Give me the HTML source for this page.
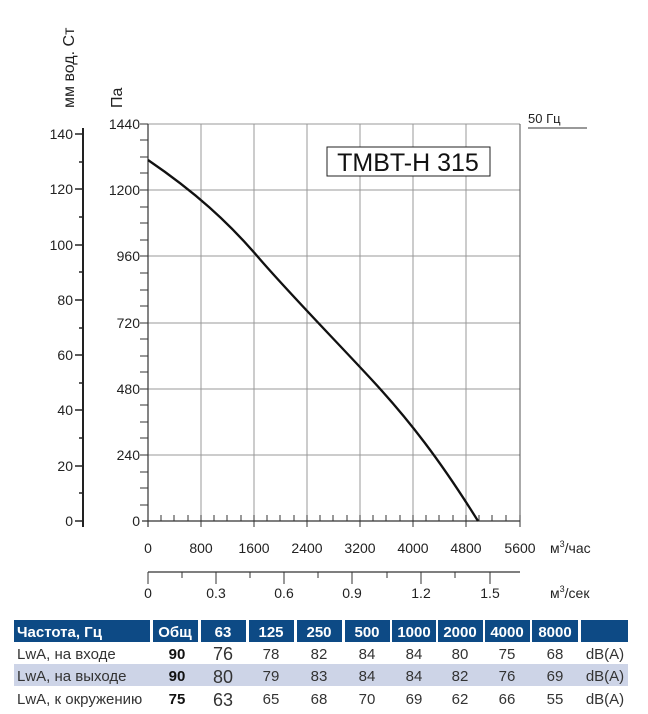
<!DOCTYPE html>
<html><head><meta charset="utf-8"><style>
body{margin:0;background:#fff;}
svg{display:block;font-family:"Liberation Sans",sans-serif;}
</style></head><body>
<svg width="648" height="714" viewBox="0 0 648 714" xmlns="http://www.w3.org/2000/svg">
<g stroke="#999" stroke-width="1">
<line x1="201" y1="124" x2="201" y2="521"/><line x1="254" y1="124" x2="254" y2="521"/>
<line x1="307" y1="124" x2="307" y2="521"/><line x1="360" y1="124" x2="360" y2="521"/>
<line x1="413" y1="124" x2="413" y2="521"/><line x1="466" y1="124" x2="466" y2="521"/>
<line x1="148" y1="124" x2="520" y2="124"/><line x1="148" y1="190" x2="520" y2="190"/>
<line x1="148" y1="256" x2="520" y2="256"/><line x1="148" y1="323" x2="520" y2="323"/>
<line x1="148" y1="389" x2="520" y2="389"/><line x1="148" y1="455" x2="520" y2="455"/>
</g>
<line x1="520" y1="124" x2="520" y2="521" stroke="#555" stroke-width="1"/>
<line x1="148" y1="124" x2="148" y2="527" stroke="#333" stroke-width="1.2"/>
<line x1="142" y1="521" x2="520" y2="521" stroke="#333" stroke-width="1.2"/>
<g stroke="#333" stroke-width="1">
<line x1="140" y1="124" x2="148" y2="124"/><line x1="140" y1="190" x2="148" y2="190"/><line x1="140" y1="256" x2="148" y2="256"/><line x1="140" y1="323" x2="148" y2="323"/><line x1="140" y1="389" x2="148" y2="389"/><line x1="140" y1="455" x2="148" y2="455"/>
<line x1="140" y1="140" x2="148" y2="140"/><line x1="140" y1="157" x2="148" y2="157"/><line x1="140" y1="173" x2="148" y2="173"/>
<line x1="140" y1="207" x2="148" y2="207"/><line x1="140" y1="223" x2="148" y2="223"/><line x1="140" y1="240" x2="148" y2="240"/>
<line x1="140" y1="273" x2="148" y2="273"/><line x1="140" y1="290" x2="148" y2="290"/><line x1="140" y1="306" x2="148" y2="306"/>
<line x1="140" y1="339" x2="148" y2="339"/><line x1="140" y1="356" x2="148" y2="356"/><line x1="140" y1="372" x2="148" y2="372"/>
<line x1="140" y1="405" x2="148" y2="405"/><line x1="140" y1="422" x2="148" y2="422"/><line x1="140" y1="438" x2="148" y2="438"/>
<line x1="140" y1="472" x2="148" y2="472"/><line x1="140" y1="488" x2="148" y2="488"/><line x1="140" y1="505" x2="148" y2="505"/>
</g>
<g stroke="#333" stroke-width="1">
<line x1="161" y1="515" x2="161" y2="521"/><line x1="174" y1="515" x2="174" y2="521"/><line x1="188" y1="515" x2="188" y2="521"/><line x1="201" y1="515" x2="201" y2="527"/>
<line x1="214" y1="515" x2="214" y2="521"/><line x1="227" y1="515" x2="227" y2="521"/><line x1="241" y1="515" x2="241" y2="521"/><line x1="254" y1="515" x2="254" y2="527"/>
<line x1="267" y1="515" x2="267" y2="521"/><line x1="280" y1="515" x2="280" y2="521"/><line x1="294" y1="515" x2="294" y2="521"/><line x1="307" y1="515" x2="307" y2="527"/>
<line x1="320" y1="515" x2="320" y2="521"/><line x1="333" y1="515" x2="333" y2="521"/><line x1="347" y1="515" x2="347" y2="521"/><line x1="360" y1="515" x2="360" y2="527"/>
<line x1="373" y1="515" x2="373" y2="521"/><line x1="386" y1="515" x2="386" y2="521"/><line x1="400" y1="515" x2="400" y2="521"/><line x1="413" y1="515" x2="413" y2="527"/>
<line x1="426" y1="515" x2="426" y2="521"/><line x1="439" y1="515" x2="439" y2="521"/><line x1="453" y1="515" x2="453" y2="521"/><line x1="466" y1="515" x2="466" y2="527"/>
<line x1="479" y1="515" x2="479" y2="521"/><line x1="492" y1="515" x2="492" y2="521"/><line x1="506" y1="515" x2="506" y2="521"/><line x1="520" y1="515" x2="520" y2="527"/>
</g>
<g font-size="14" fill="#222" text-anchor="end">
<text x="140" y="129">1440</text><text x="140" y="195">1200</text><text x="140" y="261">960</text><text x="140" y="328">720</text><text x="140" y="394">480</text><text x="140" y="460">240</text><text x="140" y="526">0</text>
</g>
<line x1="83" y1="128" x2="83" y2="527" stroke="#222" stroke-width="2"/>
<g stroke="#222" stroke-width="1.5">
<line x1="75" y1="134" x2="83" y2="134"/><line x1="75" y1="189" x2="83" y2="189"/><line x1="75" y1="245" x2="83" y2="245"/><line x1="75" y1="300" x2="83" y2="300"/><line x1="75" y1="355" x2="83" y2="355"/><line x1="75" y1="410" x2="83" y2="410"/><line x1="75" y1="466" x2="83" y2="466"/><line x1="75" y1="521" x2="83" y2="521"/>
<line x1="79" y1="162" x2="83" y2="162"/><line x1="79" y1="217" x2="83" y2="217"/><line x1="79" y1="272" x2="83" y2="272"/><line x1="79" y1="328" x2="83" y2="328"/><line x1="79" y1="383" x2="83" y2="383"/><line x1="79" y1="438" x2="83" y2="438"/><line x1="79" y1="493" x2="83" y2="493"/>
</g>
<g font-size="14" fill="#222" text-anchor="end">
<text x="73" y="139">140</text><text x="73" y="194">120</text><text x="73" y="250">100</text><text x="73" y="305">80</text><text x="73" y="360">60</text><text x="73" y="415">40</text><text x="73" y="471">20</text><text x="73" y="526">0</text>
</g>
<text transform="translate(74,108) rotate(-90)" font-size="16" fill="#222">мм вод. Ст</text>
<text transform="translate(122,108) rotate(-90)" font-size="16" fill="#222">Па</text>
<path d="M148,160 C195,192 228,222 258,257 S335,340 372,380 S440,460 478,521" fill="none" stroke="#111" stroke-width="2.3"/>
<rect x="327" y="147" width="163" height="29" fill="#fff" stroke="#222" stroke-width="1"/>
<text x="408" y="171" font-size="25" text-anchor="middle" fill="#111" font-family="Liberation Sans Narrow, Liberation Sans, sans-serif">TMBT-H 315</text>
<text x="528" y="123" font-size="13" fill="#222">50 Гц</text>
<line x1="528" y1="128" x2="587" y2="128" stroke="#333"/>
<g font-size="14" fill="#222" text-anchor="middle">
<text x="148" y="553">0</text><text x="201" y="553">800</text><text x="254" y="553">1600</text><text x="307" y="553">2400</text><text x="360" y="553">3200</text><text x="413" y="553">4000</text><text x="466" y="553">4800</text><text x="520" y="553">5600</text>
</g>
<text x="550" y="553" font-size="14" fill="#222">м<tspan font-size="9" dy="-6">3</tspan><tspan dy="6">/час</tspan></text>
<line x1="148" y1="572" x2="520" y2="572" stroke="#333" stroke-width="1.2"/>
<g stroke="#333" stroke-width="1">
<line x1="148" y1="572" x2="148" y2="584"/><line x1="182" y1="572" x2="182" y2="578"/><line x1="216" y1="572" x2="216" y2="584"/><line x1="250" y1="572" x2="250" y2="578"/><line x1="284" y1="572" x2="284" y2="584"/><line x1="318" y1="572" x2="318" y2="578"/><line x1="352" y1="572" x2="352" y2="584"/><line x1="387" y1="572" x2="387" y2="578"/><line x1="421" y1="572" x2="421" y2="584"/><line x1="455" y1="572" x2="455" y2="578"/><line x1="490" y1="572" x2="490" y2="584"/>
</g>
<g font-size="14" fill="#222" text-anchor="middle">
<text x="148" y="598">0</text><text x="216" y="598">0.3</text><text x="284" y="598">0.6</text><text x="352" y="598">0.9</text><text x="421" y="598">1.2</text><text x="490" y="598">1.5</text>
</g>
<text x="550" y="598" font-size="14" fill="#222">м<tspan font-size="9" dy="-6">3</tspan><tspan dy="6">/сек</tspan></text>
<g fill="#0d4a85">
<rect x="14" y="620" width="136" height="22"/><rect x="153" y="620" width="45" height="22"/><rect x="201" y="620" width="45" height="22"/><rect x="249" y="620" width="45" height="22"/><rect x="297" y="620" width="45" height="22"/><rect x="345" y="620" width="45" height="22"/><rect x="392" y="620" width="44" height="22"/><rect x="438" y="620" width="45" height="22"/><rect x="485" y="620" width="45" height="22"/><rect x="532" y="620" width="46" height="22"/><rect x="581" y="620" width="47" height="22"/>
</g>
<rect x="14" y="664" width="614" height="22" fill="#cdd4e7"/>
<g font-size="15" font-weight="bold" fill="#fff">
<text x="17" y="637">Частота, Гц</text>
<g text-anchor="middle"><text x="175" y="637">Общ</text><text x="223" y="637">63</text><text x="271" y="637">125</text><text x="319" y="637">250</text><text x="367" y="637">500</text><text x="414" y="637">1000</text><text x="460" y="637">2000</text><text x="507" y="637">4000</text><text x="555" y="637">8000</text></g>
</g>
<g font-size="15" fill="#333">
<text x="17" y="659">LwA, на входе</text><text x="17" y="681">LwA, на выходе</text><text x="17" y="704">LwA, к окружению</text>
<g text-anchor="middle">
<text x="177" y="659" font-weight="bold" fill="#111">90</text><text x="223" y="660" font-size="18">76</text><text x="271" y="659">78</text><text x="319" y="659">82</text><text x="367" y="659">84</text><text x="414" y="659">84</text><text x="460" y="659">80</text><text x="507" y="659">75</text><text x="555" y="659">68</text><text x="605" y="659">dB(A)</text>
<text x="177" y="681" font-weight="bold" fill="#111">90</text><text x="223" y="683" font-size="18">80</text><text x="271" y="681">79</text><text x="319" y="681">83</text><text x="367" y="681">84</text><text x="414" y="681">84</text><text x="460" y="681">82</text><text x="507" y="681">76</text><text x="555" y="681">69</text><text x="605" y="681">dB(A)</text>
<text x="177" y="704" font-weight="bold" fill="#111">75</text><text x="223" y="706" font-size="18">63</text><text x="271" y="704">65</text><text x="319" y="704">68</text><text x="367" y="704">70</text><text x="414" y="704">69</text><text x="460" y="704">62</text><text x="507" y="704">66</text><text x="555" y="704">55</text><text x="605" y="704">dB(A)</text>
</g></g>
</svg>
</body></html>
